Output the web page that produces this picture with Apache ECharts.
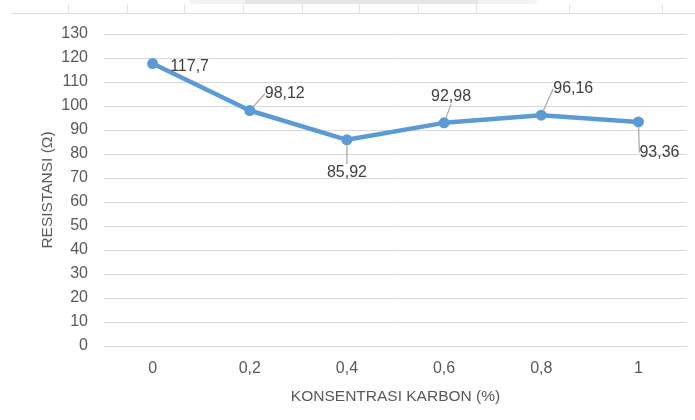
<!DOCTYPE html>
<html>
<head>
<meta charset="utf-8">
<script src="https://cdn.jsdelivr.net/npm/echarts@6/dist/echarts.min.js"></script>
<style>
  html, body { margin: 0; padding: 0; background: #fff; }
  #chart { width: 695px; height: 420px; }
</style>
</head>
<body>
<div id="chart"></div>
<script>
const categories = ['0', '0,2', '0,4', '0,6', '0,8', '1'];
const resistansi = [117.7, 98.12, 85.92, 92.98, 96.16, 93.36];
const valueLabels = ['117,7', '98,12', '85,92', '92,98', '96,16', '93,36'];

// label nudges relative to the default 'top' label position
const labelShift = [
  [37, 22], [35, 2], [0, 51], [7, -8], [32, -8], [21, 49]
];

const chart = echarts.init(document.getElementById('chart'), null, { renderer: 'canvas' });

const font = 'Liberation Sans, Arial, sans-serif';
const txt = '#595959';

const option = {
  animation: false,
  backgroundColor: '#fff',
  textStyle: { fontFamily: font },
  grid: { left: 104, right: 8, top: 34, bottom: 74 },
  // bits of the spreadsheet window caught in the screenshot
  graphic: [
    { type: 'rect', shape: { x: 190, y: -6, width: 347, height: 10, r: 4 }, style: { fill: '#f3f3f3' }, silent: true },
    { type: 'rect', shape: { x: 245, y: -6, width: 233, height: 10 }, style: { fill: '#e6e6e6' }, silent: true },
    { type: 'line', shape: { x1: 11, y1: 13.5, x2: 695, y2: 13.5 }, style: { stroke: '#dcdcdc', lineWidth: 1.2 }, silent: true },
    ...[68, 127, 184, 243, 302, 359, 418, 476, 569, 662].map(x => ({
      type: 'line', shape: { x1: x + 0.5, y1: 4, x2: x + 0.5, y2: 13 },
      style: { stroke: '#e3e3e3', lineWidth: 1 }, silent: true
    }))
  ],
  xAxis: {
    type: 'category',
    data: categories,
    boundaryGap: true,
    name: 'KONSENTRASI KARBON (%)',
    nameLocation: 'middle',
    nameGap: 43,
    nameTextStyle: { color: txt, fontSize: 15.5, fontFamily: font },
    axisLine: { lineStyle: { color: '#d9d9d9', width: 1 } },
    axisTick: { show: false },
    axisLabel: { color: txt, fontSize: 16, margin: 15, fontFamily: font }
  },
  yAxis: {
    type: 'value',
    min: 0,
    max: 130,
    interval: 10,
    name: 'RESISTANSI (Ω)',
    nameLocation: 'middle',
    nameGap: 48,
    nameMoveOverlap: false,
    nameRotate: 90,
    nameTextStyle: { color: txt, fontSize: 15.5, fontFamily: font },
    axisLine: { show: false },
    axisTick: { show: false },
    axisLabel: { color: txt, fontSize: 16, margin: 16, fontFamily: font },
    splitLine: { lineStyle: { color: '#d9d9d9', width: 1 } }
  },
  series: [{
    type: 'line',
    data: resistansi.map((v, i) => ({ value: v, labelLine: { show: i !== 0 } })),
    symbol: 'circle',
    symbolSize: 11,
    lineStyle: { color: '#5B9BD5', width: 4.5 },
    itemStyle: { color: '#5B9BD5' },
    label: {
      show: true,
      position: 'top',
      color: '#404040',
      fontSize: 16,
      fontFamily: font,
      formatter: p => valueLabels[p.dataIndex]
    },
    labelLine: {
      show: true,
      length2: 0,
      lineStyle: { color: '#a6a6a6', width: 1.2 }
    },
    labelLayout: p => ({
      dx: labelShift[p.dataIndex][0],
      dy: labelShift[p.dataIndex][1]
    })
  }]
};

chart.setOption(option);
</script>
</body>
</html>
